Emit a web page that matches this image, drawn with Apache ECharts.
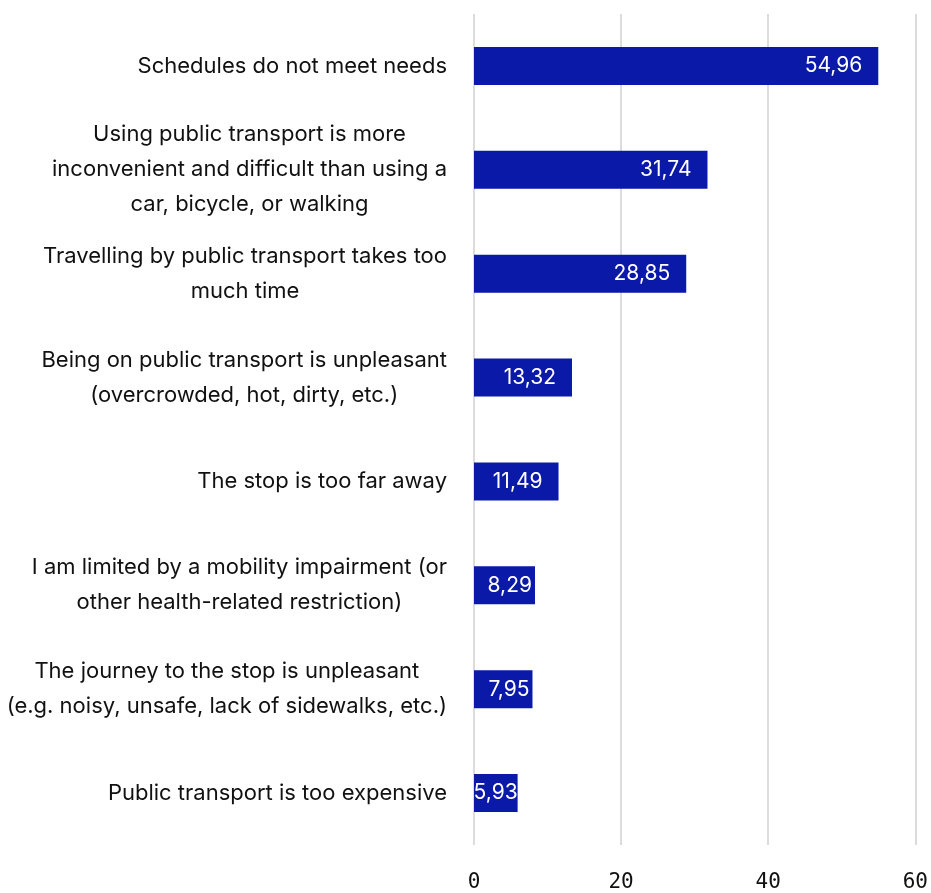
<!DOCTYPE html>
<html><head><meta charset="utf-8">
<script src="https://cdn.jsdelivr.net/npm/echarts@6/dist/echarts.min.js"></script>
<style>html,body{margin:0;padding:0;background:#fff}#c{width:931px;height:893px}</style>
</head><body><div id="c"></div>
<script>
const categories = [
  "Schedules do not meet needs",
  "Using public transport is more\ninconvenient and difficult than using a\ncar, bicycle, or walking",
  "Travelling by public transport takes too\nmuch time",
  "Being on public transport is unpleasant\n(overcrowded, hot, dirty, etc.)",
  "The stop is too far away",
  "I am limited by a mobility impairment (or\nother health-related restriction)",
  "The journey to the stop is unpleasant\n(e.g. noisy, unsafe, lack of sidewalks, etc.)",
  "Public transport is too expensive"
];
const values = [54.96, 31.74, 28.85, 13.32, 11.49, 8.29, 7.95, 5.93];
const xTicks = [0, 20, 40, 60];

const chart = echarts.init(document.getElementById('c'));
chart.setOption({
  animation: false,
  grid: {left: 474, right: 15, top: 14, bottom: 41, containLabel: false},
  xAxis: {
    type: 'value', min: xTicks[0], max: xTicks[xTicks.length-1], interval: 20,
    axisLine: {show: false}, axisTick: {show: false},
    splitLine: {show: true, lineStyle: {color: '#dcdcdc', width: 2}},
    axisLabel: {fontFamily: 'DejaVu Sans Mono', fontSize: 21, color: '#111', margin: 27}
  },
  yAxis: {
    type: 'category', data: categories, inverse: true,
    axisLine: {show: false}, axisTick: {show: false},
    axisLabel: {
      margin: 27, align: 'right',
      formatter: v => v.split('\n').map(l => '{a|' + l + '}').join('\n'),
      rich: {a: {align: 'center', fontFamily: 'Inter', fontSize: 22, lineHeight: 35, color: '#111'}}
    }
  },
  series: [{
    type: 'bar', barWidth: 38,
    data: values.map(v => ({value: v, label: v < 10 ? {distance: v < 7 ? 0 : 3} : {}})),
    itemStyle: {color: '#0a19a8'},
    label: {
      show: true, position: 'insideRight', distance: 16, color: '#fff',
      fontFamily: 'Inter', fontSize: 21,
      formatter: p => p.value.toFixed(2).replace('.', ',')
    }
  }]
});
</script></body></html>
